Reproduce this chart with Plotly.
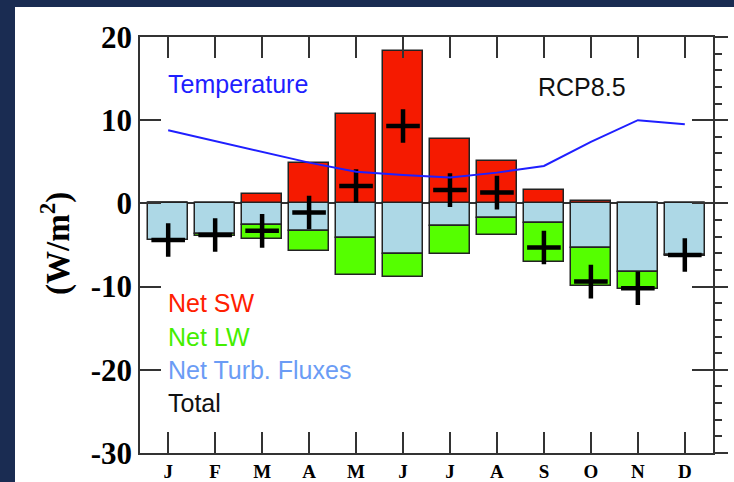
import plotly.graph_objects as go

months = ["J", "F", "M", "A", "M", "J", "J", "A", "S", "O", "N", "D"]
net_sw = [0, 0, 1.1, 4.8, 10.8, 18.3, 7.7, 5.1, 1.65, 0.3, 0, 0]
net_turb = [-4.4, -3.7, -2.55, -3.3, -4.2, -6.1, -2.7, -1.7, -2.35, -5.4, -8.25, -6.25]
net_lw = [0, -0.25, -1.75, -2.4, -4.4, -2.7, -3.4, -2.1, -4.65, -4.5, -2.0, -0.1]
total = [-4.4, -3.8, -3.3, -1.1, 2.1, 9.3, 1.6, 1.3, -5.3, -9.4, -10.2, -6.2]
temperature = [8.8, 7.5, 6.2, 4.9, 3.8, 3.4, 3.1, 3.7, 4.5, 7.4, 10.0, 9.5]
ytick_vals = [-30, -20, -10, 0, 10, 20]
ytick_text = ["-30", "-20", "-10", "0", "10", "20"]

x = list(range(len(months)))
edge = dict(color="#222222", width=1.5)

fig = go.Figure()
fig.add_trace(go.Bar(x=x, y=net_turb, width=0.85, marker=dict(color="#add8e6", line=edge), name="Net Turb. Fluxes"))
fig.add_trace(go.Bar(x=x, y=net_lw, width=0.85, marker=dict(color="#55ff00", line=edge), name="Net LW"))
fig.add_trace(go.Bar(x=x, y=net_sw, width=0.85, marker=dict(color="#f51a00", line=edge), name="Net SW"))
fig.add_trace(go.Scatter(x=x, y=total, mode="markers", name="Total",
                         marker=dict(symbol="cross-thin", size=24, line=dict(width=4.5, color="black"))))
fig.add_trace(go.Scatter(x=x, y=temperature, mode="lines", name="Temperature", yaxis="y2",
                         line=dict(color="#1f1fff", width=2)))

L, R, T, B = 140, 21, 37, 29
W, H = 734, 482
pw, ph = W - L - R, H - T - B
navy = "#1a2c52"

def px(xp):
    return (xp - L) / pw

def py(yp):
    return (H - B - yp) / ph

shapes = [
    dict(type="rect", xref="paper", yref="paper", x0=px(-5), x1=px(15), y0=py(H + 10), y1=py(-10),
         fillcolor=navy, line=dict(width=0), layer="below"),
    dict(type="rect", xref="paper", yref="paper", x0=px(-5), x1=px(W + 10), y0=py(7), y1=py(-10),
         fillcolor=navy, line=dict(width=0), layer="below"),
]

sans = "Liberation Sans"
serif = "Liberation Serif"
ann = []
def label(text, xv, yv, color, anchor="left"):
    ann.append(dict(x=xv, y=yv, xref="x", yref="y", text=text, showarrow=False, xanchor=anchor,
                    yanchor="middle", font=dict(family=sans, size=25, color=color)))

label("Temperature", -0.04, 14.35, "#1f1fff")
label("RCP8.5", 9.8, 14.0, "#111111", anchor="right")
label("Net SW", -0.04, -12, "#ff2000")
label("Net LW", -0.04, -16, "#44ee00")
label("Net Turb. Fluxes", -0.04, -20, "#6b9cf5")
label("Total", -0.04, -24, "#111111")
ann.append(dict(x=px(55), y=py(244), xref="paper", yref="paper", text="(W/m<sup>2</sup>)",
                showarrow=False, textangle=-90, xanchor="center", yanchor="middle",
                font=dict(family=serif, size=33, color="black", weight="bold")))

axcol = "#333333"
fig.update_layout(
    width=W, height=H, margin=dict(l=L, r=R, t=T, b=B, pad=0, autoexpand=False),
    paper_bgcolor="white", plot_bgcolor="white",
    barmode="relative", showlegend=False, bargap=0,
    shapes=shapes, annotations=ann,
    xaxis=dict(range=[-0.6, 11.6], tickvals=x, ticktext=months, ticks="inside", ticklen=21,
               tickwidth=1.5, tickcolor=axcol, mirror="ticks", showline=True, linewidth=1.5,
               linecolor=axcol, showgrid=False, zeroline=False, automargin=False,
               tickfont=dict(family=serif, size=19, color="black", weight="bold")),
    yaxis=dict(range=[-30, 20], tickvals=ytick_vals, ticktext=ytick_text, ticks="inside",
               ticklen=21, tickwidth=1.5, tickcolor=axcol, mirror="ticks", showline=True,
               linewidth=1.5, linecolor=axcol, showgrid=False, zeroline=True, automargin=False,
               zerolinecolor=axcol, zerolinewidth=1.5,
               tickfont=dict(family=serif, size=31, color="black", weight="bold")),
    yaxis2=dict(range=[-30, 20], overlaying="y", side="right", tick0=0, dtick=10,
                ticks="outside", ticklen=13, tickwidth=1.5, tickcolor=axcol, showticklabels=False,
                showline=True, linewidth=1.5, linecolor=axcol, showgrid=False, zeroline=False,
                automargin=False,
                minor=dict(ticks="outside", ticklen=7, dtick=2, tick0=0, tickwidth=1.5,
                           tickcolor=axcol, showgrid=False)),
)

reset = ("document.documentElement.style.margin='0';document.body.style.margin='0';"
         "document.body.style.padding='0';document.body.style.overflow='hidden';")

fig.write_html("out.html", config={"displayModeBar": False}, post_script=reset)
